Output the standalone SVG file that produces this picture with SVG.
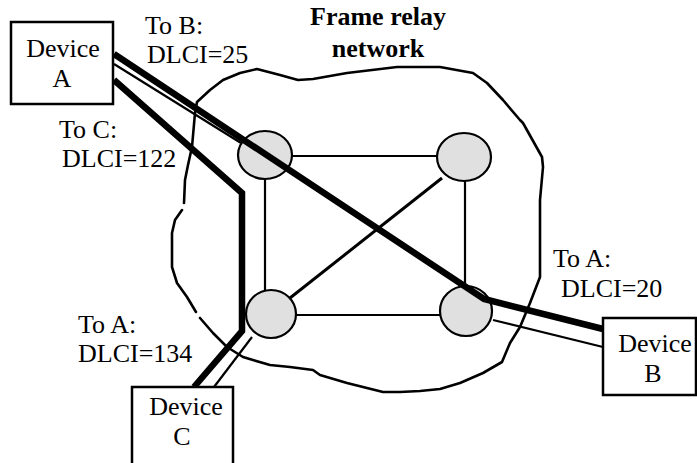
<svg xmlns="http://www.w3.org/2000/svg" width="697" height="463" viewBox="0 0 697 463">
<defs>
<ellipse id="nd" rx="27" ry="24" fill="#e0e0e0" stroke="#000" stroke-width="2.2"/>
</defs>
<rect width="697" height="463" fill="#fff"/>
<g id="cloud" stroke="#000" stroke-width="2.6" fill="none" stroke-linejoin="round" stroke-linecap="round">
<path d="M184,203 L185,180 L188,165 L192,147 L195,113 L197,102 L210,90 L223,80 L240,73 L257,69 L280,75 L298,80 L313,79 L347,73 L397,67 L440,67 L473,73 L487,83 L503,100 L520,120 L523,123 L542,157 L543,167 L540,200 L540,277 L530,303 L520,327 L510,343 L502,362 L483,373 L460,383 L440,389 L420,391 L400,392 L383,392 L363,387 L347,383 L320,375 L313,370 L290,367 L270,365 L253,360 L243,357 L227,347 L213,333 L200,318"/>
<path d="M196,312 L187,297 L177,283 L172,267 L172,233 L175,220 L182,210"/>
</g>
<g id="connectors" stroke="#000" stroke-width="2.2" fill="none">
<line x1="292" y1="156" x2="440" y2="156"/>
<line x1="265" y1="178" x2="265" y2="292"/>
<line x1="465" y1="180" x2="465" y2="288"/>
<line x1="296" y1="315" x2="442" y2="315"/>
<line x1="442" y1="178" x2="290" y2="298" stroke-width="3"/>
<line x1="114" y1="64" x2="241" y2="143"/>
<line x1="493" y1="320" x2="603" y2="347"/>
<line x1="252" y1="337" x2="214" y2="387"/>
</g>
<g id="node-tl"><use href="#nd" x="265" y="155"/></g>
<g id="node-tr"><use href="#nd" x="464" y="157"/></g>
<g id="node-bl"><ellipse cx="271" cy="314" rx="25" ry="24" fill="#e0e0e0" stroke="#000" stroke-width="2.2"/></g>
<g id="node-br"><ellipse cx="466" cy="311" rx="26" ry="25" fill="#e0e0e0" stroke="#000" stroke-width="2.2"/></g>
<g id="paths" stroke="#000" stroke-width="6.5" fill="none">
<polyline points="114,54 484,299 603,329"/>
<polyline points="114,80 242,193 242,331 194,387"/>
</g>
<g id="device-a">
<rect x="11" y="22" width="102" height="82" fill="#fff" stroke="#000" stroke-width="2.5"/>
<text font-family="Liberation Serif" font-size="26" x="63" y="57" text-anchor="middle">Device</text>
<text font-family="Liberation Serif" font-size="26" x="62" y="87" text-anchor="middle">A</text>
</g>
<g id="device-b">
<rect x="603" y="318" width="93" height="77" fill="#fff" stroke="#000" stroke-width="2.5"/>
<text font-family="Liberation Serif" font-size="26" x="655" y="352" text-anchor="middle">Device</text>
<text font-family="Liberation Serif" font-size="26" x="653" y="382" text-anchor="middle">B</text>
</g>
<g id="device-c">
<rect x="132" y="387" width="101" height="90" fill="#fff" stroke="#000" stroke-width="2.5"/>
<text font-family="Liberation Serif" font-size="26" x="186" y="415" text-anchor="middle">Device</text>
<text font-family="Liberation Serif" font-size="26" x="182" y="445" text-anchor="middle">C</text>
</g>
<g id="labels">
<text font-family="Liberation Serif" font-size="26" font-weight="bold" x="378" y="25" text-anchor="middle">Frame relay</text>
<text font-family="Liberation Serif" font-size="26" font-weight="bold" x="378" y="57" text-anchor="middle">network</text>
<text font-family="Liberation Serif" font-size="26" x="145" y="34">To B:</text>
<text font-family="Liberation Serif" font-size="26" x="147" y="63">DLCI=25</text>
<text font-family="Liberation Serif" font-size="26" x="59" y="138">To C:</text>
<text font-family="Liberation Serif" font-size="26" x="62" y="167">DLCI=122</text>
<text font-family="Liberation Serif" font-size="26" x="78" y="333">To A:</text>
<text font-family="Liberation Serif" font-size="26" x="78" y="362">DLCI=134</text>
<text font-family="Liberation Serif" font-size="26" x="553" y="267">To A:</text>
<text font-family="Liberation Serif" font-size="26" x="561" y="297">DLCI=20</text>
</g>
</svg>
